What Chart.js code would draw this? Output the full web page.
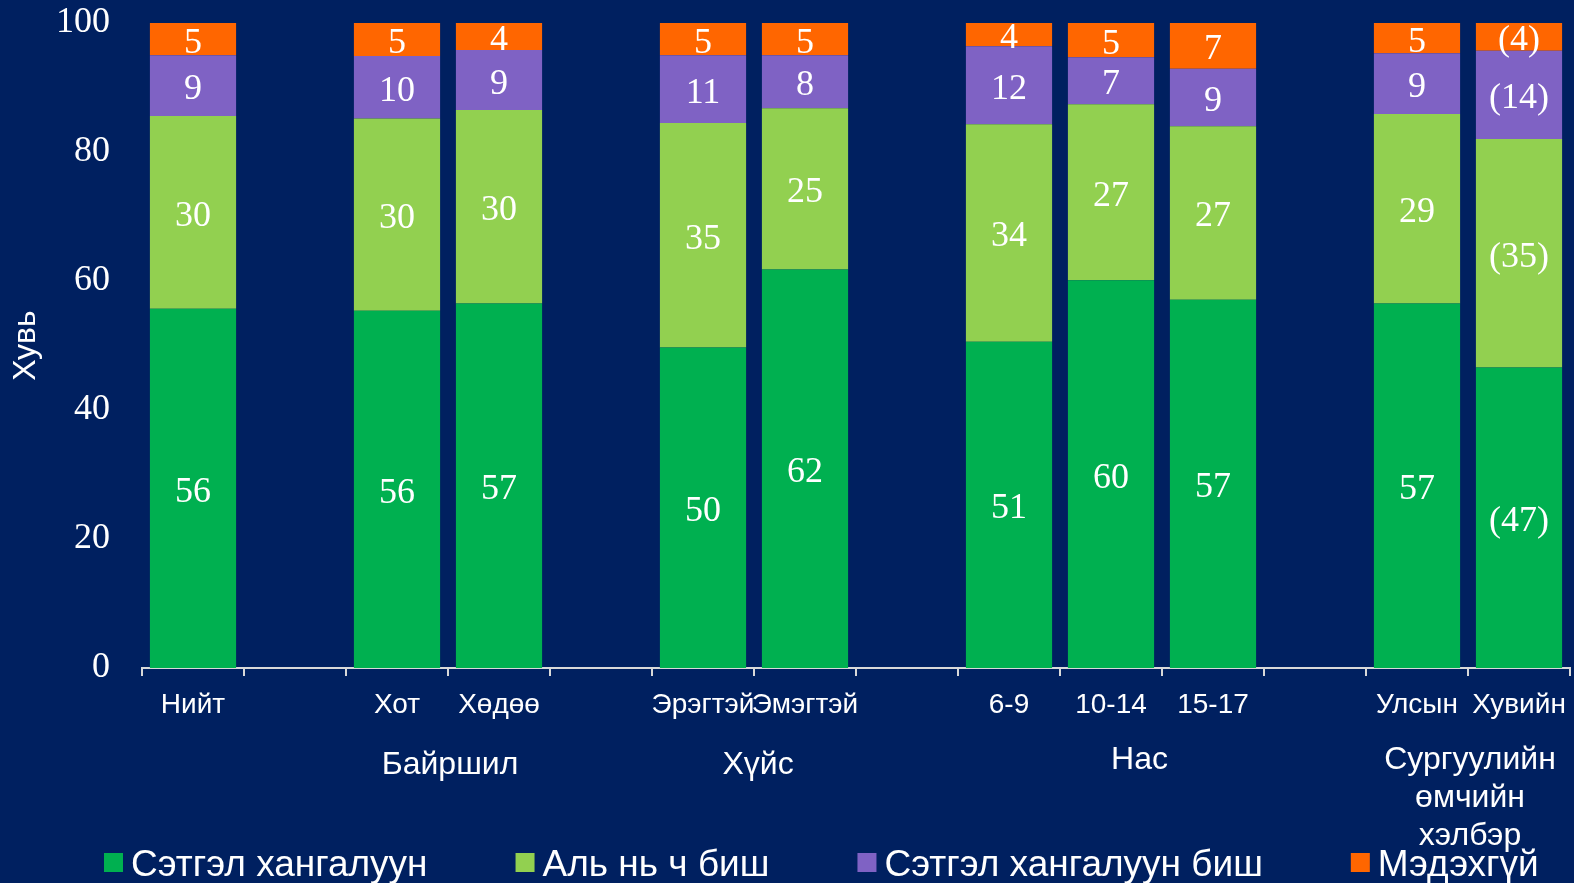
<!DOCTYPE html>
<html lang="mn">
<head>
    <meta charset="UTF-8">
    <title>Сэтгэл ханамж</title>
    <script src="https://cdn.jsdelivr.net/npm/chart.js"></script>
    <style>
        body {
            margin: 0;
            background-color: #002060;
            overflow: hidden;
        }
        #wrap {
            width: 1574px;
            height: 883px;
        }
    </style>
</head>
<body>
    <div id="wrap"><canvas id="satChart"></canvas></div>

    <script>
        // categories (empty strings are the gaps between groups)
        const categories = ['Нийт', '', 'Хот', 'Хөдөө', '', 'Эрэгтэй', 'Эмэгтэй', '', '6-9', '10-14', '15-17', '', 'Улсын', 'Хувийн'];

        // group labels under the categories
        const groupNames = [['Байршил'], ['Хүйс'], ['Нас'], ['Сургуулийн', 'өмчийн', 'хэлбэр']];

        const seriesNames = ['Сэтгэл хангалуун', 'Аль нь ч биш', 'Сэтгэл хангалуун биш', 'Мэдэхгүй'];

        // segment heights (percent)
        const satisfied    = [55.7, null, 55.4, 56.5, null, 49.7, 61.8, null, 50.6, 60.1, 57.1, null, 56.5, 46.6];
        const neither      = [29.9, null, 29.8, 30.0, null, 34.8, 25.0, null, 33.7, 27.3, 26.9, null, 29.4, 35.4];
        const notSatisfied = [9.4,  null, 9.7,  9.3,  null, 10.5, 8.2,  null, 12.1, 7.3,  8.9,  null, 9.4,  13.7];
        const dontKnow     = [5.0,  null, 5.1,  4.2,  null, 5.0,  5.0,  null, 3.6,  5.3,  7.1,  null, 4.7,  4.3];

        // numbers printed on the bars
        const satisfiedLabels    = ['56', '', '56', '57', '', '50', '62', '', '51', '60', '57', '', '57', '(47)'];
        const neitherLabels      = ['30', '', '30', '30', '', '35', '25', '', '34', '27', '27', '', '29', '(35)'];
        const notSatisfiedLabels = ['9', '', '10', '9', '', '11', '8', '', '12', '7', '9', '', '9', '(14)'];
        const dontKnowLabels     = ['5', '', '5', '4', '', '5', '5', '', '4', '5', '7', '', '5', '(4)'];

        const yTicks = [0, 20, 40, 60, 80, 100];

        const colors = ['#00B050', '#92D050', '#7F62C4', '#FF6600'];
        const allLabels = [satisfiedLabels, neitherLabels, notSatisfiedLabels, dontKnowLabels];

        // where the group captions sit (category index) and their baselines
        const groupPos = [2.52, 5.54, 9.28, 12.52];
        const groupBase = [774, 774, 769, 769];

        // numbers inside the bar segments
        const barText = {
            id: 'barText',
            afterDatasetsDraw(chart) {
                const ctx = chart.ctx;
                ctx.save();
                ctx.fillStyle = '#ffffff';
                ctx.font = '36px "Liberation Serif", "Times New Roman", serif';
                ctx.textAlign = 'center';
                ctx.textBaseline = 'middle';
                chart.data.datasets.forEach((ds, d) => {
                    chart.getDatasetMeta(d).data.forEach((bar, i) => {
                        const t = allLabels[d][i];
                        if (!t || ds.data[i] == null) return;
                        ctx.fillText(t, bar.x, (bar.y + bar.base) / 2 + 4);
                    });
                });
                ctx.restore();
            }
        };

        // category names, group names and the legend
        const axisText = {
            id: 'axisText',
            afterDraw(chart) {
                const ctx = chart.ctx;
                const x = chart.scales.x;
                const slot = (x.right - x.left) / categories.length;
                ctx.save();
                ctx.fillStyle = '#ffffff';
                ctx.textAlign = 'center';
                ctx.textBaseline = 'alphabetic';

                ctx.font = '28px "Liberation Sans", Arial, sans-serif';
                categories.forEach((c, i) => {
                    if (c) ctx.fillText(c, x.getPixelForValue(i), 713);
                });

                ctx.font = '32px "Liberation Sans", Arial, sans-serif';
                groupNames.forEach((lines, g) => {
                    const gx = x.left + slot * (groupPos[g] + 0.5);
                    lines.forEach((ln, k) => ctx.fillText(ln, gx, groupBase[g] + k * 38));
                });

                // legend
                ctx.font = '37px "Liberation Sans", Arial, sans-serif';
                ctx.textAlign = 'left';
                let lx = 104;
                seriesNames.forEach((name, s) => {
                    ctx.fillStyle = colors[s];
                    ctx.fillRect(lx, 853, 19, 19);
                    ctx.fillStyle = '#ffffff';
                    ctx.fillText(name, lx + 27, 876);
                    lx += 27 + ctx.measureText(name).width + 88;
                });
                ctx.restore();
            }
        };

        const datasets = [satisfied, neither, notSatisfied, dontKnow].map((vals, s) => ({
            label: seriesNames[s],
            data: vals,
            backgroundColor: colors[s],
            borderWidth: 0,
            barPercentage: 0.845,
            categoryPercentage: 1
        }));

        const ctx = document.getElementById('satChart').getContext('2d');
        new Chart(ctx, {
            type: 'bar',
            data: {
                labels: categories,
                datasets: datasets
            },
            plugins: [barText, axisText],
            options: {
                responsive: true,
                maintainAspectRatio: false,
                animation: false,
                layout: {
                    padding: { top: 23, right: 4, left: 0, bottom: 0 }
                },
                plugins: {
                    legend: { display: false },
                    tooltip: { enabled: false }
                },
                scales: {
                    x: {
                        stacked: true,
                        offset: true,
                        ticks: { display: false },
                        grid: {
                            offset: true,
                            drawOnChartArea: false,
                            drawTicks: true,
                            tickLength: 8,
                            color: '#d9d9d9',
                            lineWidth: 2
                        },
                        border: { display: true, color: '#d9d9d9', width: 2 },
                        afterFit(scale) { scale.height = 215; }
                    },
                    y: {
                        stacked: true,
                        min: 0,
                        max: 100,
                        afterBuildTicks(scale) {
                            scale.ticks = yTicks.map(v => ({ value: v }));
                        },
                        ticks: {
                            color: '#ffffff',
                            padding: 32,
                            font: { family: '"Liberation Serif", "Times New Roman", serif', size: 36 }
                        },
                        grid: { display: false, drawTicks: false },
                        border: { display: false },
                        title: {
                            display: true,
                            text: 'Хувь',
                            color: '#ffffff',
                            padding: { top: 7, bottom: 0 },
                            font: { family: '"Liberation Sans", Arial, sans-serif', size: 32 }
                        },
                        afterFit(scale) {
                            scale.width = 142;
                            scale.paddingTop = 0;
                            scale.paddingBottom = 0;
                        }
                    }
                }
            }
        });
    </script>
</body>
</html>
